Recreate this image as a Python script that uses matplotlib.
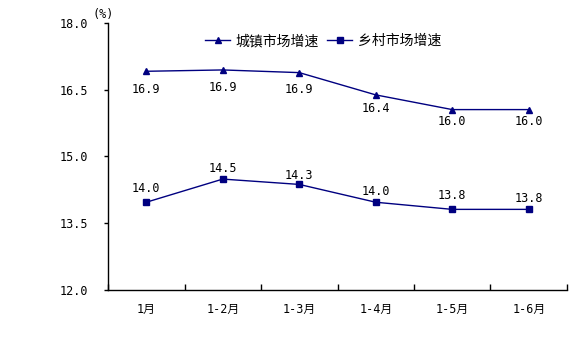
import matplotlib
matplotlib.use("Agg")
import matplotlib.pyplot as plt
from matplotlib.ticker import FixedLocator

plt.rcParams["font.family"] = ["DejaVu Sans Mono", "Noto Sans CJK SC"]

months = ["1月", "1-2月", "1-3月", "1-4月", "1-5月", "1-6月"]
urban = [16.91, 16.94, 16.88, 16.38, 16.05, 16.05]
urban_labels = ["16.9", "16.9", "16.9", "16.4", "16.0", "16.0"]
rural = [13.97, 14.49, 14.37, 13.97, 13.81, 13.81]
rural_labels = ["14.0", "14.5", "14.3", "14.0", "13.8", "13.8"]
y_ticks = [12.0, 13.5, 15.0, 16.5, 18.0]

# label offsets in pixels (as placed in the original)
urban_off = [-18, -18, -17, -14, -12, -12]
rural_off = [14, 11, 9, 11, 14, 11]

NAVY = "#000080"


def main():
    fig = plt.figure(figsize=(5.82, 3.54), dpi=100)
    ax = fig.add_axes([0.1856, 0.1808, 0.7886, 0.755])

    x = list(range(len(months)))
    ax.plot(x, urban, color=NAVY, lw=1, marker="^", ms=5, label="城镇市场增速")
    ax.plot(x, rural, color=NAVY, lw=1, marker="s", ms=4.5, label="乡村市场增速")

    for xi, v, t, o in zip(x, urban, urban_labels, urban_off):
        ax.annotate(t, (xi, v), xytext=(0, o), textcoords="offset pixels",
                    ha="center", va="center", fontsize=8.5)
    for xi, v, t, o in zip(x, rural, rural_labels, rural_off):
        ax.annotate(t, (xi, v), xytext=(0, o), textcoords="offset pixels",
                    ha="center", va="center", fontsize=8.5)

    ax.set_xlim(-0.5, len(months) - 0.5)
    ax.set_ylim(12.0, 18.0)
    ax.set_yticks(y_ticks)
    ax.set_yticklabels([f"{v:.1f}" for v in y_ticks], fontsize=8.5)
    ax.tick_params(axis="y", direction="out", length=3, width=1, pad=11)

    ax.set_xticks(x)
    ax.set_xticklabels(months, fontsize=8.5)
    ax.tick_params(axis="x", which="major", length=0, pad=9)
    ax.xaxis.set_minor_locator(FixedLocator([i - 0.5 for i in range(len(months) + 1)]))
    ax.tick_params(axis="x", which="minor", direction="in", length=4, width=1)

    for side in ["top", "right"]:
        ax.spines[side].set_visible(False)
    for side in ["left", "bottom"]:
        ax.spines[side].set_linewidth(1)
        ax.spines[side].set_color("black")

    fig.text(0.159, 0.958, "(%)", fontsize=8.5, ha="left", va="center")

    fig.legend(loc="center", bbox_to_anchor=(0.555, 0.884), ncol=2, frameon=False,
               prop={"family": ["Noto Sans CJK SC"], "size": 10},
               handlelength=1.8, handletextpad=0.4, columnspacing=0.6)

    fig.savefig("out.png", dpi=100)


if __name__ == "__main__":
    main()
